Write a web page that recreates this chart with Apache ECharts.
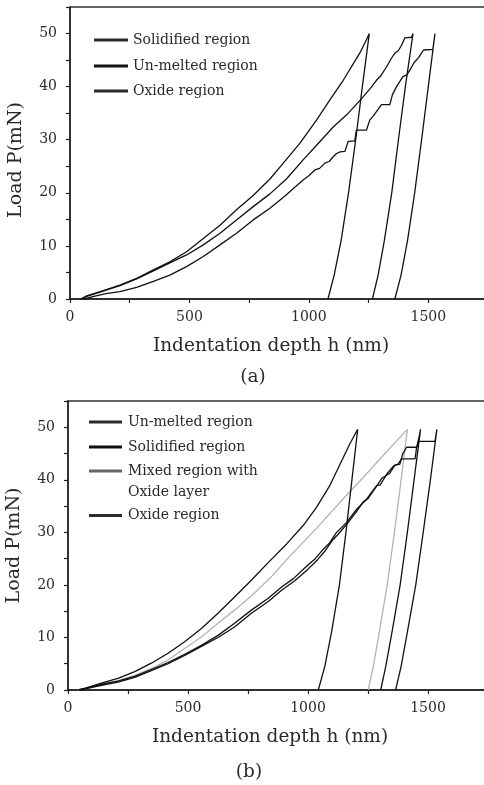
<!DOCTYPE html>
<html><head><meta charset="utf-8">
<script src="https://cdn.jsdelivr.net/npm/echarts@6/dist/echarts.min.js"></script>
<style>html,body{margin:0;padding:0;background:#fff}#c{width:484px;height:785px}</style>
</head><body><div id="c"></div>
<script>
// ---- tick labels ----
const xTickLabels = [0, 500, 1000, 1500];
const yTickLabels = [0, 10, 20, 30, 40, 50];

// ---- legend / panel text ----
const legendA = ['Solidified region', 'Un-melted region', 'Oxide region'];
const legendB = ['Un-melted region', 'Solidified region', 'Mixed region with\nOxide layer', 'Oxide region'];
const panelLabels = ['(a)', '(b)'];

// ---- panel (a): [depth h (nm), load P (mN)] loading + unloading ----
const solidifiedA = [[45,0],[70,0.6],[139,1.6],[209,2.6],[279,3.9],[349,5.5],[418,7.0],[488,8.9],[558,11.4],[628,13.9],[697,16.8],[767,19.5],[837,22.6],[893,25.6],[962,29.3],[1032,33.7],[1088,37.5],[1144,41.2],[1213,46.3],[1245,49.2],[1253,50],[1224,40],[1196,30],[1166,20],[1135,11],[1106,4.5],[1080,0]];
const unmeltedA = [[50,0],[70,0.5],[139,1.5],[209,2.5],[279,3.8],[349,5.3],[418,6.8],[488,8.3],[558,10.2],[628,12.4],[697,14.9],[767,17.4],[837,19.8],[906,22.6],[976,26.2],[1039,29.3],[1102,32.4],[1165,35.0],[1220,37.7],[1260,39.8],[1283,41.2],[1300,42.0],[1325,43.7],[1345,45.3],[1360,46.3],[1375,46.8],[1388,47.8],[1402,49.2],[1430,49.3],[1436,50],[1404,40],[1375,30],[1347,20],[1316,11],[1290,4.5],[1266,0]];
const oxideA = [[60,0],[100,0.5],[150,1.0],[209,1.4],[279,2.2],[349,3.3],[418,4.5],[488,6.1],[558,8.0],[628,10.2],[697,12.4],[767,14.9],[837,17.1],[900,19.4],[940,21.0],[976,22.4],[1000,23.2],[1025,24.3],[1045,24.6],[1067,25.6],[1085,25.9],[1102,26.8],[1116,27.4],[1130,27.7],[1151,27.8],[1165,29.7],[1192,29.8],[1199,31.8],[1241,31.8],[1255,33.7],[1270,34.5],[1283,35.3],[1304,36.6],[1339,36.6],[1350,38.5],[1367,40.0],[1394,41.9],[1410,42.2],[1423,43.1],[1440,44.5],[1460,45.5],[1480,46.9],[1519,47.0],[1528,50],[1500,40],[1472,30],[1443,20],[1413,11],[1386,4.5],[1360,0]];

// ---- panel (b) ----
const unmeltedB = [[42,0],[69,0.3],[139,1.3],[208,2.2],[278,3.5],[347,5.1],[417,7.0],[486,9.2],[556,11.7],[625,14.6],[694,17.7],[764,20.9],[833,24.2],[911,27.8],[980,31.3],[1036,34.8],[1092,39.0],[1133,42.9],[1175,46.9],[1200,49.0],[1207,49.6],[1183,40],[1158,30],[1131,20],[1098,11],[1070,4.5],[1043,0]];
const solidifiedB = [[45,0],[100,0.6],[150,1.2],[208,1.7],[278,2.6],[347,3.9],[417,5.2],[486,6.8],[556,8.5],[625,10.4],[694,12.7],[764,15.2],[833,17.4],[890,19.6],[939,21.2],[995,23.6],[1030,25.0],[1064,26.8],[1090,28.0],[1119,30.0],[1161,31.9],[1203,34.4],[1244,36.3],[1265,37.6],[1286,38.9],[1300,39.0],[1330,41.2],[1356,42.6],[1375,43.0],[1390,44.0],[1446,44.0],[1452,46],[1462,48],[1469,49.6],[1442,40],[1414,30],[1384,20],[1350,11],[1324,4.5],[1303,0]];
const mixedB = [[40,0],[100,0.6],[139,1.0],[208,1.8],[278,2.8],[347,4.1],[417,5.7],[486,7.9],[556,10.1],[625,12.7],[694,15.2],[764,17.9],[842,21.3],[925,25.5],[1036,30.8],[1147,36.4],[1231,40.5],[1328,45.4],[1414,49.6],[1388,40],[1360,30],[1330,20],[1297,11],[1272,4.5],[1251,0]];
const oxideB = [[50,0],[100,0.5],[150,1.0],[208,1.5],[278,2.4],[347,3.7],[417,5.0],[486,6.6],[556,8.3],[625,10.0],[694,12.0],[764,14.6],[833,16.8],[890,19.0],[945,20.8],[1000,23.0],[1040,24.8],[1070,26.4],[1100,28.4],[1125,29.6],[1160,31.5],[1200,33.8],[1230,35.8],[1250,36.4],[1280,38.4],[1310,40.4],[1340,41.2],[1362,42.8],[1383,43.0],[1395,45.0],[1411,46.2],[1453,46.2],[1460,47.3],[1529,47.3],[1537,49.6],[1510,40],[1480,30],[1449,20],[1414,11],[1388,4.5],[1365,0]];

const FONT = '"DejaVu Serif", "Liberation Serif", serif';
const AXIS_COLOR = '#1e1e1e';
const TEXT_COLOR = '#2a2a2a';

function xAxisCfg(gridIndex) {
  return {
    type: 'value', gridIndex, min: 0, max: 1750, interval: 250,
    name: 'Indentation depth h (nm)', nameLocation: 'middle', nameGap: 38,
    nameTextStyle: { fontFamily: FONT, fontSize: 18.5, color: TEXT_COLOR, padding: [0, 16, 0, 0] },
    axisLine: { show: true, onZero: false, lineStyle: { color: AXIS_COLOR, width: 1.5 } },
    axisTick: { show: true, length: 4, lineStyle: { color: AXIS_COLOR, width: 1.2 } },
    axisLabel: { fontFamily: FONT, fontSize: 14, color: TEXT_COLOR, margin: 11,
      formatter: v => xTickLabels.includes(v) ? String(v) : '' },
    splitLine: { show: false }
  };
}
function yAxisCfg(gridIndex, pad) {
  return {
    type: 'value', gridIndex, min: 0, max: 55, interval: 5,
    name: 'Load P(mN)', nameLocation: 'middle', nameGap: 44, nameRotate: 90,
    nameTextStyle: { fontFamily: FONT, fontSize: 19, color: TEXT_COLOR, padding: pad },
    axisLine: { show: true, onZero: false, lineStyle: { color: AXIS_COLOR, width: 1.5 } },
    axisTick: { show: true, length: 4, lineStyle: { color: AXIS_COLOR, width: 1.2 } },
    axisLabel: { fontFamily: FONT, fontSize: 14, color: TEXT_COLOR, margin: 13,
      formatter: v => yTickLabels.includes(v) ? String(v) : '' },
    splitLine: { show: false }
  };
}
function lineSeries(name, data, idx, color) {
  return { type: 'line', name, data, xAxisIndex: idx, yAxisIndex: idx,
    showSymbol: false, symbol: 'none', smooth: false, animation: false,
    lineStyle: { color, width: 1.3 }, z: color === '#111' ? 3 : 2 };
}

function legendGraphics(names, ys, x1, x2, tx, colors) {
  const g = [];
  names.forEach((n, i) => {
    g.push({ type: 'line', shape: { x1, y1: ys[i], x2, y2: ys[i] },
      style: { stroke: colors[i], lineWidth: 3.2 } });
    g.push({ type: 'text', x: tx, y: ys[i] - 10.5,
      style: { text: n, fontFamily: FONT, fontSize: 14, fill: TEXT_COLOR, lineHeight: 21, verticalAlign: 'top', align: 'left' } });
  });
  return g;
}

const chart = echarts.init(document.getElementById('c'), null, { renderer: 'canvas' });
chart.setOption({
  animation: false,
  backgroundColor: '#fff',
  grid: [
    { left: 70, top: 7, width: 418, height: 292, outerBoundsMode: 'none', containLabel: false, show: true, borderColor: '#333', borderWidth: 1.3, backgroundColor: 'transparent' },
    { left: 68, top: 401, width: 420, height: 289, outerBoundsMode: 'none', containLabel: false, show: true, borderColor: '#333', borderWidth: 1.3, backgroundColor: 'transparent' }
  ],
  xAxis: [xAxisCfg(0), xAxisCfg(1)],
  yAxis: [yAxisCfg(0, [0, 14, 0, 0]), yAxisCfg(1, [0, 0, 0, 0])],
  series: [
    lineSeries('Solidified region', solidifiedA, 0, '#111'),
    lineSeries('Un-melted region', unmeltedA, 0, '#111'),
    lineSeries('Oxide region', oxideA, 0, '#111'),
    lineSeries('Un-melted region', unmeltedB, 1, '#111'),
    lineSeries('Solidified region', solidifiedB, 1, '#111'),
    lineSeries('Mixed region with Oxide layer', mixedB, 1, '#b4b4b4'),
    lineSeries('Oxide region', oxideB, 1, '#111')
  ],
  graphic: [
    ...legendGraphics(legendA, [40, 66, 91], 94, 128, 133, ['#2b2b2b', '#111', '#2b2b2b']),
    ...legendGraphics(legendB, [422, 447, 471, 515.5], 89, 122, 128, ['#2b2b2b', '#111', '#666', '#2b2b2b']),
    { type: 'text', x: 253, y: 377, style: { text: panelLabels[0], fontFamily: FONT, fontSize: 18.5, fill: TEXT_COLOR, align: 'center', verticalAlign: 'middle' } },
    { type: 'text', x: 249, y: 772, style: { text: panelLabels[1], fontFamily: FONT, fontSize: 18.5, fill: TEXT_COLOR, align: 'center', verticalAlign: 'middle' } }
  ]
});
</script></body></html>
